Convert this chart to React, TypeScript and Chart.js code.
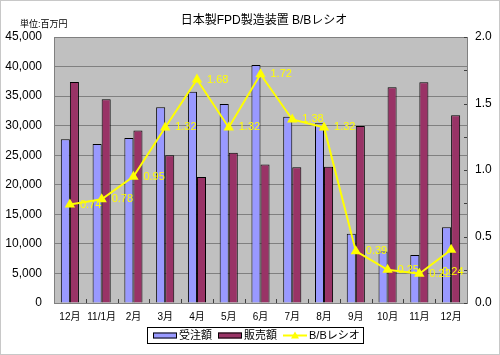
import React, { useEffect, useRef } from "react";
import { Chart, registerables } from "chart.js";

Chart.register(...registerables);

const categories = ["12月", "11/1月", "2月", "3月", "4月", "5月", "6月", "7月", "8月", "9月", "10月", "11月", "12月"];
const orders = [27700, 26900, 27900, 33100, 35750, 33650, 40250, 31500, 30400, 11700, 8700, 8100, 12800];
const sales = [37400, 34450, 29200, 25000, 21300, 25400, 23450, 22950, 23050, 29950, 36500, 37350, 31750];
const bbRatio = [0.74, 0.78, 0.95, 1.32, 1.68, 1.32, 1.72, 1.38, 1.32, 0.39, 0.25, 0.22, 0.40];
const bbLabels = ["0.74", "0.78", "0.95", "1.32", "1.68", "1.32", "1.72", "1.38", "1.32", "0.39", "0.25", "0.22", "0.24"];
const seriesNames = ["受注額", "販売額", "B/Bレシオ"];
const titleText = "日本製FPD製造装置 B/Bレシオ";
const unitText = "単位:百万円";

const FONT = "'Liberation Sans', Arial, 'Noto Sans CJK JP', sans-serif";
const BLUE = "#9999ff";
const PURPLE = "#993366";
const YELLOW = "#ffff00";

const framePlugin = {
  id: "frame",
  beforeDraw(chart: any) {
    const { ctx, width, height, chartArea } = chart;
    ctx.save();
    ctx.fillStyle = "#ffffff";
    ctx.fillRect(0, 0, width, height);
    ctx.strokeStyle = "#c8c8c8";
    ctx.lineWidth = 1;
    ctx.strokeRect(0.5, 0.5, width - 1, height - 1);
    ctx.fillStyle = "#c0c0c0";
    ctx.fillRect(chartArea.left, chartArea.top, chartArea.right - chartArea.left, chartArea.bottom - chartArea.top);
    ctx.fillStyle = "#000";
    ctx.textAlign = "center";
    ctx.textBaseline = "middle";
    ctx.font = "12px " + FONT;
    ctx.fillText(titleText, 264, 21);
    ctx.textAlign = "left";
    ctx.font = "9px " + FONT;
    ctx.fillText(unitText, 20, 25);
    ctx.restore();
  },
  afterDraw(chart: any) {
    const { ctx, chartArea } = chart;
    const xs = chart.scales.x;
    ctx.save();
    ctx.strokeStyle = "#404040";
    ctx.lineWidth = 1;
    // category boundary ticks
    const n = categories.length;
    const step = (chartArea.right - chartArea.left) / n;
    for (let i = 1; i < n; i++) {
      const x = Math.round(chartArea.left + step * i) + 0.5;
      ctx.beginPath();
      ctx.moveTo(x, chartArea.bottom);
      ctx.lineTo(x, chartArea.bottom - 4);
      ctx.stroke();
    }
    // right axis ticks
    const y1 = chart.scales.y1;
    for (let v = 0; v <= 2.0001; v += 0.25) {
      const y = Math.round(y1.getPixelForValue(v)) + 0.5;
      ctx.beginPath();
      ctx.moveTo(chartArea.right, y);
      ctx.lineTo(chartArea.right - 3, y);
      ctx.stroke();
    }
    // legend
    const lx = 147, ly = 327, lw = 216, lh = 16;
    ctx.fillStyle = "#ffffff";
    ctx.fillRect(lx, ly, lw, lh);
    ctx.strokeStyle = "#000";
    ctx.strokeRect(lx + 0.5, ly + 0.5, lw, lh);
    const cy = ly + lh / 2 + 0.5;
    ctx.font = "11px " + FONT;
    ctx.textBaseline = "middle";
    ctx.textAlign = "left";
    // blue swatch
    ctx.fillStyle = BLUE;
    ctx.fillRect(153, cy - 3, 24, 6);
    ctx.strokeStyle = "#000";
    ctx.strokeRect(153.5, cy - 2.5, 23, 5);
    ctx.fillStyle = "#000";
    ctx.fillText(seriesNames[0], 179, cy);
    ctx.fillStyle = PURPLE;
    ctx.fillRect(218, cy - 3, 24, 6);
    ctx.strokeRect(218.5, cy - 2.5, 23, 5);
    ctx.fillStyle = "#000";
    ctx.fillText(seriesNames[1], 244, cy);
    ctx.strokeStyle = YELLOW;
    ctx.lineWidth = 2;
    ctx.beginPath();
    ctx.moveTo(283, cy);
    ctx.lineTo(307, cy);
    ctx.stroke();
    ctx.fillStyle = YELLOW;
    ctx.beginPath();
    ctx.moveTo(295, cy - 4);
    ctx.lineTo(299, cy + 3);
    ctx.lineTo(291, cy + 3);
    ctx.closePath();
    ctx.fill();
    ctx.fillStyle = "#000";
    ctx.fillText(seriesNames[2], 309, cy);
    ctx.restore();
  },
  afterDatasetsDraw(chart: any) {
    const { ctx } = chart;
    const meta = chart.getDatasetMeta(2);
    ctx.save();
    ctx.fillStyle = YELLOW;
    ctx.font = "11px " + FONT;
    ctx.textBaseline = "middle";
    ctx.textAlign = "left";
    meta.data.forEach((pt: any, i: number) => {
      const last = i === meta.data.length - 1;
      const x = last ? pt.x - 9 : pt.x + 10;
      const y = last ? pt.y + 22 : pt.y;
      ctx.fillText(bbLabels[i], x, y);
    });
    ctx.restore();
  },
};

export default function App() {
  const ref = useRef<HTMLCanvasElement>(null);
  useEffect(() => {
    if (!ref.current) return;
    const chart = new Chart(ref.current, {
      type: "bar",
      data: {
        labels: categories,
        datasets: [
          {
            type: "bar",
            label: seriesNames[0],
            data: orders,
            backgroundColor: BLUE,
            borderColor: "#000",
            borderWidth: 1,
            yAxisID: "y",
            categoryPercentage: 0.57,
            barPercentage: 1,
            order: 2,
          },
          {
            type: "bar",
            label: seriesNames[1],
            data: sales,
            backgroundColor: PURPLE,
            borderColor: "#000",
            borderWidth: 1,
            yAxisID: "y",
            categoryPercentage: 0.57,
            barPercentage: 1,
            order: 2,
          },
          {
            type: "line",
            label: seriesNames[2],
            data: bbRatio,
            borderColor: YELLOW,
            backgroundColor: YELLOW,
            borderWidth: 2,
            pointStyle: "triangle",
            pointRadius: 6,
            pointBorderWidth: 0,
            pointBackgroundColor: YELLOW,
            yAxisID: "y1",
            order: 1,
          } as any,
        ],
      },
      options: {
        animation: false,
        responsive: false,
        maintainAspectRatio: false,
        layout: { padding: { top: 37, bottom: 32, left: 0, right: 0 } },
        plugins: { legend: { display: false }, tooltip: { enabled: false }, title: { display: false } },
        scales: {
          x: {
            grid: { display: false, drawTicks: false },
            border: { color: "#808080" },
            ticks: { color: "#000", font: { family: FONT, size: 10 }, padding: 8, maxRotation: 0, autoSkip: false },
            afterFit: (s: any) => { s.height = 20; },
          },
          y: {
            position: "left",
            min: 0,
            max: 45000,
            grid: { color: "#808080", drawTicks: false },
            border: { color: "#808080" },
            ticks: {
              stepSize: 5000,
              color: "#000",
              font: { family: FONT, size: 12 },
              padding: 12,
              callback: (v: any) => Number(v).toLocaleString("en-US"),
            },
            afterFit: (s: any) => { s.width = 54; },
          },
          y1: {
            position: "right",
            min: 0,
            max: 2,
            grid: { display: false, drawTicks: false },
            border: { color: "#808080" },
            ticks: {
              stepSize: 0.5,
              color: "#000",
              font: { family: FONT, size: 12 },
              padding: 8,
              callback: (v: any) => Number(v).toFixed(1),
            },
            afterFit: (s: any) => { s.width = 33; },
          },
        },
      },
      plugins: [framePlugin],
    });
    return () => chart.destroy();
  }, []);
  return (
    <div style={{ position: "fixed", left: 0, top: 0, width: 500, height: 355 }}>
      <canvas ref={ref} width={500} height={355} style={{ width: 500, height: 355 }} />
    </div>
  );
}
